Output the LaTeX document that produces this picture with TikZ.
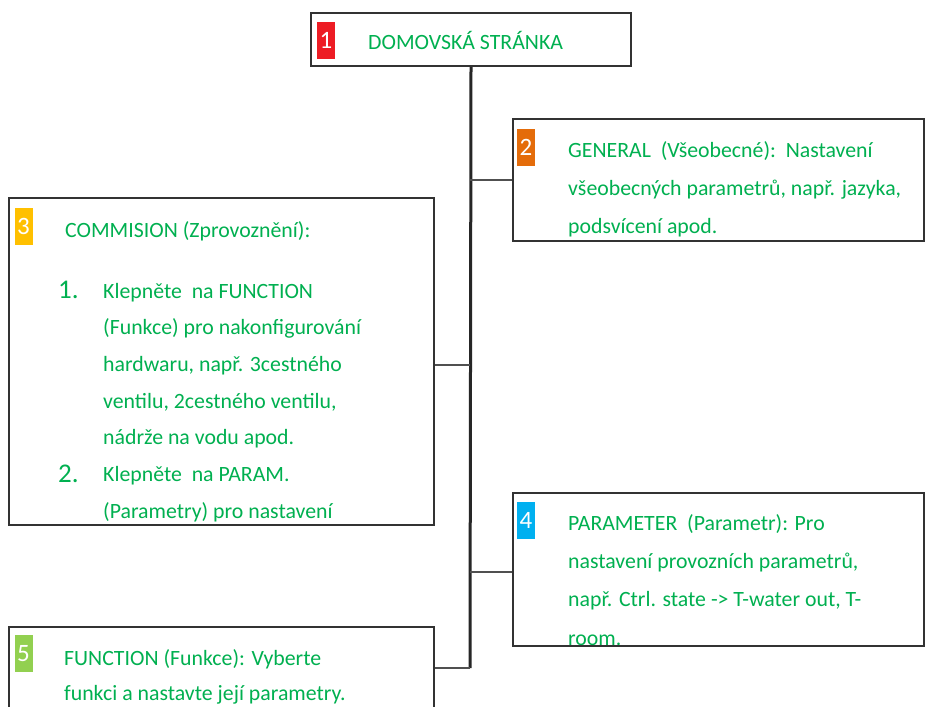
\documentclass[tikz,border=0pt]{standalone}
\usepackage{fontspec}
\setmainfont{Carlito}
\usetikzlibrary{positioning}

\definecolor{txtgreen}{RGB}{0,176,80}
\definecolor{boxgray}{RGB}{50,50,50}
\definecolor{linkgray}{RGB}{80,80,80}
\definecolor{bred}{RGB}{237,28,36}
\definecolor{borange}{RGB}{228,108,10}
\definecolor{byellow}{RGB}{255,192,0}
\definecolor{bblue}{RGB}{0,176,240}
\definecolor{bgreen}{RGB}{146,208,80}

\begin{document}
\begin{tikzpicture}[x=1pt,y=-1pt]
%styles
	\tikzset{
	box/.style={draw=boxgray, line width=2pt, anchor=north west, inner sep=0pt},
	badge/.style={minimum width=18pt, minimum height=37pt, inner sep=0pt, text=white, font=\fontsize{25}{25}\selectfont},
	txt/.style={anchor=base west, inner sep=0pt, text=txtgreen, font=\fontsize{21.8}{37}\selectfont},
	num/.style={txt, font=\fontsize{27}{37}\selectfont},
	link/.style={line width=2pt, draw=linkgray}}

	\useasboundingbox[fill=white] (0,0) rectangle (925,706);
	\clip (0,0) rectangle (925,706);

%1 Domovska stranka
	\node[box, minimum width=320pt, minimum height=53pt] (home) at (310,12) {};
	\node[badge, fill=bred] (b1) at (326,40.5) {1};
	\node[txt] (hometxt) at (368,50) {DOMOVSKÁ STRÁNKA};

	%kmen
	\coordinate (trunkend) at (470,668);
	\draw[line width=3pt, draw=black!85] (home.south) -- (trunkend);

%2 General
	\node[box, minimum width=411pt, minimum height=122pt] (general) at (512,118) {};
	\node[badge, fill=borange] (b2) at (526,147.5) {2};
	\foreach \txt [count=\i from 0] in {GENERAL\ \ (Všeobecné):\ \ Nastavení, {všeobecných parametrů, např. jazyka,}, podsvícení apod.}
		\node[txt] (gen\i) at (568,157+38*\i) {\txt};
	\coordinate (j2) at (470,180);
	\draw[link] (j2) -- (general.west |- j2);

%3 Commision
	\node[box, minimum width=425pt, minimum height=327pt] (commision) at (8,197) {};
	\node[badge, fill=byellow] (b3) at (23.5,226.5) {3};
	\node[txt] (comtitle) at (65,237) {COMMISION (Zprovoznění):};
	\begin{scope}
		\clip (commision.north west) rectangle (commision.south east);
		\node[num] (n1) at (58,298) {1.};
		\node[num] (n2) at (58,482) {2.};
		\foreach \txt [count=\i from 0] in {Klepněte\ \ na FUNCTION, (Funkce) pro nakonfigurování, {hardwaru, např. 3cestného}, {ventilu, 2cestného ventilu,}, nádrže na vodu apod., Klepněte\ \ na PARAM., (Parametry) pro nastavení}
			\node[txt] (com\i) at (103,298+36.7*\i) {\txt};
	\end{scope}
	\coordinate (j3) at (470,365);
	\draw[link] (commision.east |- j3) -- (j3);

%4 Parameter
	\foreach \txt [count=\i from 0] in {PARAMETER\ \ (Parametr): Pro, {nastavení provozních parametrů,}, {např. Ctrl. state -> T-water out, T-}, room.}
		\node[txt] (par\i) at (568,530+38.4*\i) {\txt};
	\node[box, minimum width=411pt, minimum height=153pt] (parameter) at (512,492) {};
	\node[badge, fill=bblue] (b4) at (526,520.5) {4};
	\coordinate (j4) at (470,572);
	\draw[link] (j4) -- (parameter.west |- j4);

%5 Function
	\node[box, minimum width=425pt, minimum height=120pt] (function) at (8,626) {};
	\node[badge, fill=bgreen] (b5) at (23.5,653.5) {5};
	\foreach \txt [count=\i from 0] in {FUNCTION (Funkce): Vyberte, funkci a nastavte její parametry.}
		\node[txt] (fun\i) at (64,665+35*\i) {\txt};
	\draw[link] (function.east |- trunkend) -- (trunkend);

\end{tikzpicture}
\end{document}
